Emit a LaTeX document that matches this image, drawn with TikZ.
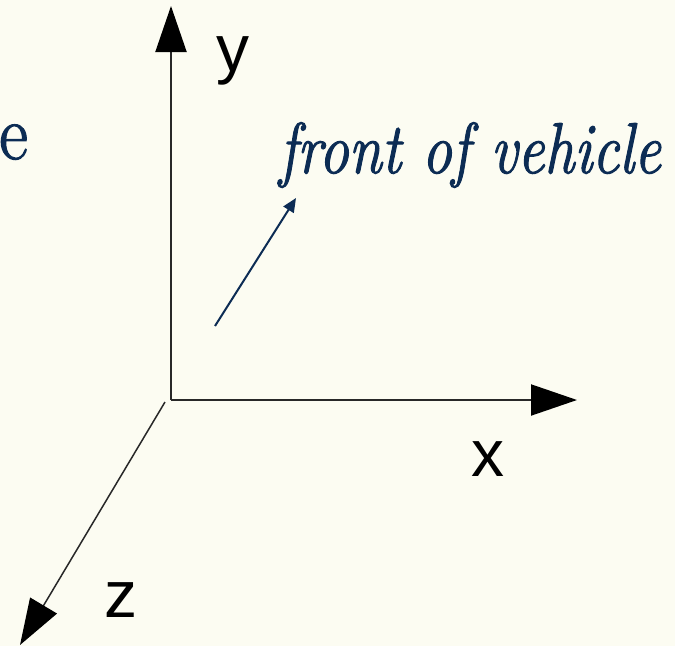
\documentclass[tikz,border=0pt]{standalone}
\usepackage{fontspec}
\newfontfamily\axfont{Liberation Sans}
\newfontfamily\navyserif{Latin Modern Roman}[FakeBold=1.6]
\usetikzlibrary{arrows.meta}
\definecolor{bgcream}{RGB}{252,252,242}
\definecolor{navy}{RGB}{12,44,84}
\definecolor{axgray}{RGB}{40,40,40}
\tikzset{
  axis/.style={draw=axgray, line width=2pt, -{Triangle[length=46pt,width=31pt,fill=black,color=black]}},
  axlabel/.style={font=\axfont\fontsize{66pt}{66pt}\selectfont, text=black, inner sep=0pt},
  navytext/.style={text=navy, inner sep=0pt},
}
\begin{document}
\begin{tikzpicture}[x=1pt,y=-1pt]
\useasboundingbox[fill=bgcream] (0,0) rectangle (675,646);
\coordinate (o) at (171,400);
\coordinate (ytip) at (171,6);
\coordinate (xtip) at (577,400);
\coordinate (zstart) at (165,402);
\coordinate (ztip) at (20,645);
\draw[axis] (o) -- (ytip);
\draw[axis] (o) -- (xtip);
\draw[axis, line width=1.5pt] (zstart) -- (ztip);
\node[axlabel, anchor=base west] (ylab) at (216,71) {y};
\node[axlabel, anchor=base west] (xlab) at (471,476) {x};
\node[axlabel, anchor=base west] (zlab) at (104,617) {z};
\node[navytext, anchor=base east, xscale=0.9, font=\navyserif\fontsize{78pt}{78pt}\selectfont] (e) at (28,159) {e};
\node[navytext, anchor=base west, xscale=0.83, font=\navyserif\itshape\fontsize{72pt}{72pt}\selectfont] (front) at (279,173) {front of vehicle};
\coordinate (ftail) at (215,326);
\coordinate (fhead) at (296,198);
\draw[navy, line width=2pt, -{Triangle[length=14pt,width=12pt]}] (ftail) -- (fhead);
\end{tikzpicture}
\end{document}
